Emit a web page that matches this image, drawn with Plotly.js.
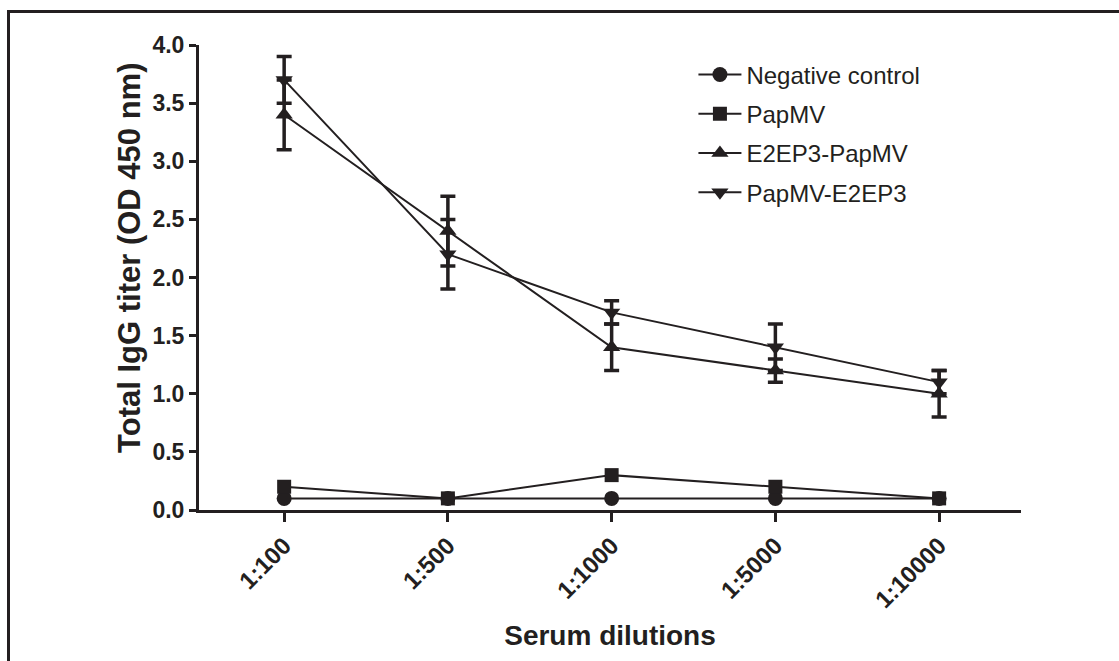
<!DOCTYPE html>
<html>
<head>
<meta charset="utf-8">
<script src="https://cdn.plot.ly/plotly-3.0.1.min.js"></script>
<style>
  html, body { margin: 0; padding: 0; background: #fff; }
  #frame { position: absolute; left: 7px; top: 10px; width: 1200px; height: 700px;
           border-left: 3px solid #231f20; border-top: 3px solid #231f20; pointer-events: none; }
  #chart { width: 1119px; height: 661px; }
</style>
</head>
<body>
<div id="chart"></div>
<div id="frame"></div>
<script>
const categories = ["1:100", "1:500", "1:1000", "1:5000", "1:10000"];
const negativeControl = [0.1, 0.1, 0.1, 0.1, 0.1];
const papMV = [0.2, 0.1, 0.3, 0.2, 0.1];
const e2ep3PapMV = [3.4, 2.4, 1.4, 1.2, 1.0];
const e2ep3PapMVErr = [0.3, 0.3, 0.2, 0.1, 0.2];
const papMVE2ep3 = [3.7, 2.2, 1.7, 1.4, 1.1];
const papMVE2ep3Err = [0.2, 0.3, 0.1, 0.2, 0.1];
const yTickVals = [0, 0.5, 1, 1.5, 2, 2.5, 3, 3.5, 4];
const yTickText = ["0.0", "0.5", "1.0", "1.5", "2.0", "2.5", "3.0", "3.5", "4.0"];
const xTitle = "Serum dilutions";
const yTitle = "Total IgG titer (OD 450 nm)";

const ink = "#231f20";
const fam = "Liberation Sans, Arial, sans-serif";
const xpos = categories.map((_, i) => i);

function series(name, y, symbol, err, group) {
  const t = {
    type: "scatter", mode: "lines+markers", name: name, x: xpos, y: y,
    legendgroup: group,
    line: { color: ink, width: 2 },
    marker: { symbol: symbol, size: symbol === "square" ? 14 : 15, color: ink },
    cliponaxis: false
  };
  if (err) {
    t.error_y = { type: "data", array: err, visible: true, color: ink, thickness: 3.5, width: 7.5 };
  }
  return t;
}

const data = [
  series("Negative control", negativeControl, "circle", null, "a"),
  series("PapMV", papMV, "square", null, "b"),
  series("E2EP3-PapMV", e2ep3PapMV, "triangle-up", e2ep3PapMVErr, "c"),
  series("PapMV-E2EP3", papMVE2ep3, "triangle-down", papMVE2ep3Err, "d")
];

const layout = {
  width: 1119, height: 661,
  margin: { l: 199, r: 98, t: 45, b: 151 },
  paper_bgcolor: "#fff", plot_bgcolor: "#fff",
  font: { family: fam, color: ink },
  showlegend: true,
  legend: {
    x: 0.6015, y: 0.984, xanchor: "left", yanchor: "top",
    font: { size: 24, color: ink }, tracegroupgap: 5, itemwidth: 43,
    bgcolor: "rgba(0,0,0,0)"
  },
  xaxis: {
    range: [-0.52, 4.5], tickmode: "array", tickvals: xpos, ticktext: categories,
    tickangle: -45, showgrid: false, zeroline: false,
    showline: true, linecolor: ink, linewidth: 3,
    ticks: "outside", ticklen: 9, tickwidth: 3, tickcolor: ink,
    tickfont: { size: 24, family: fam, weight: "bold", color: ink },
    title: { text: "<b>" + xTitle + "</b>", font: { size: 28, color: ink }, standoff: 14 }
  },
  yaxis: {
    range: [0, 4], tickmode: "array", tickvals: yTickVals, ticktext: yTickText,
    showgrid: false, zeroline: false,
    showline: true, linecolor: ink, linewidth: 3,
    ticks: "outside", ticklen: 7, tickwidth: 3, tickcolor: ink,
    tickfont: { size: 23, family: fam, weight: "bold", color: ink }
  },
  annotations: [{
    text: "<b>" + yTitle + "</b>", textangle: -90,
    xref: "paper", yref: "paper", x: -0.084, y: 0.542,
    xanchor: "center", yanchor: "middle", showarrow: false,
    font: { size: 31, family: fam, color: ink }
  }]
};

Plotly.newPlot("chart", data, layout, { displayModeBar: false, staticPlot: true });
</script>
</body>
</html>
